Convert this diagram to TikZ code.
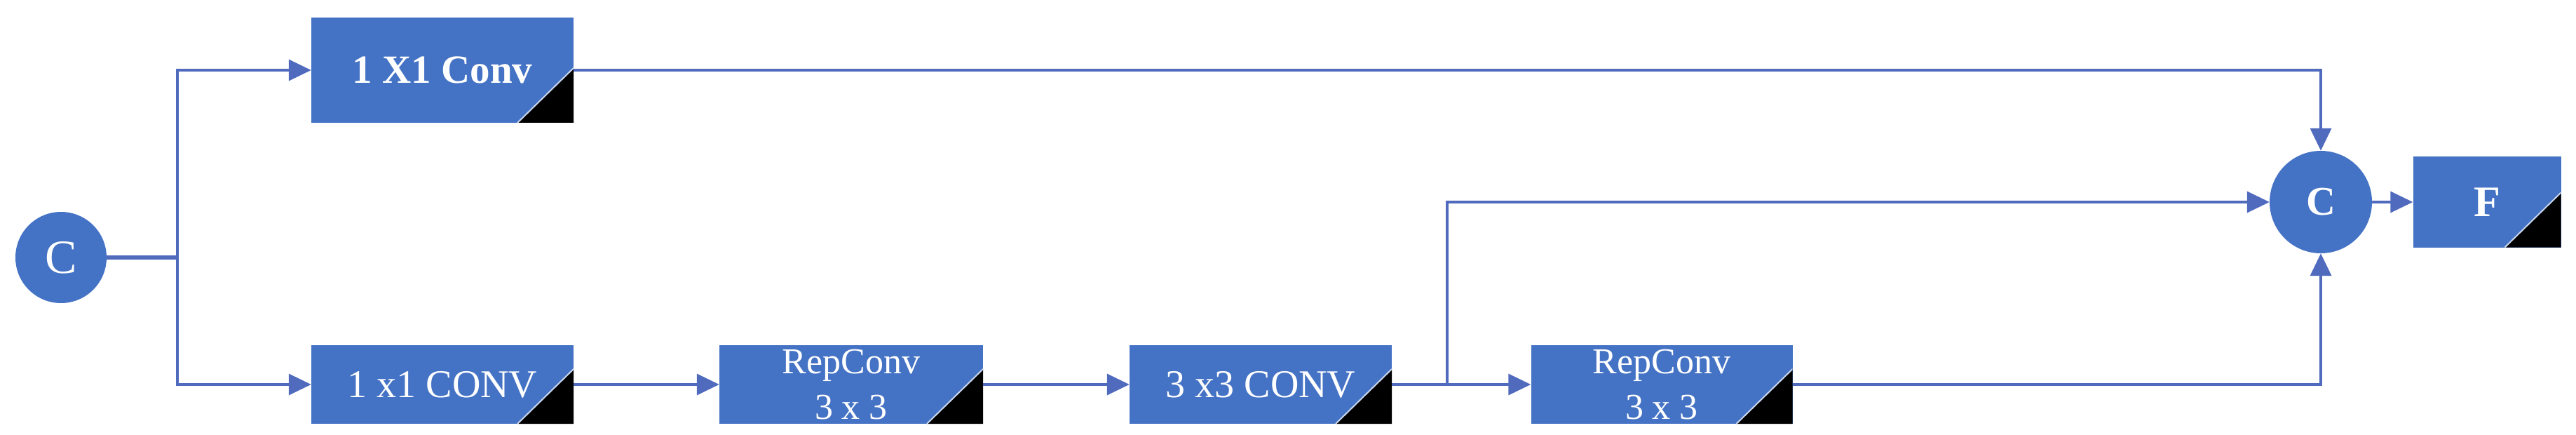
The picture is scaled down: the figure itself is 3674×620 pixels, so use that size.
\documentclass[tikz,border=0pt]{standalone}
\usepackage{fontspec}
\setmainfont{Liberation Serif}
\usetikzlibrary{arrows.meta}
\definecolor{boxblue}{RGB}{68,114,196}
\definecolor{linecol}{RGB}{80,106,190}
\begin{document}
\begin{tikzpicture}[x=1pt,y=-1pt,
  blk/.style={rectangle, fill=boxblue, text=white, inner sep=0pt,
    minimum width=374pt, minimum height=112pt,
    font=\fontsize{56}{65}\selectfont, align=center,
    path picture={
      \fill[black] (path picture bounding box.south east) -- ++(0,-78) -- ++(-80,78) -- cycle;
      \draw[white!70!boxblue, line width=2pt] (path picture bounding box.south east) ++(0,-78) -- ++(-80,78);}},
  circ/.style={circle, fill=boxblue, text=white, inner sep=0pt},
  conn/.style={draw=linecol, line width=3.5pt},
  arr/.style={conn, -{Triangle[length=32pt,width=30pt]}}]
\useasboundingbox (0,0) rectangle (3674,620);

\node[circ, minimum size=130pt, font=\fontsize{68}{70}\selectfont] (c1) at (87,367) {C};
\node[blk, minimum height=150pt, font=\bfseries\fontsize{57}{60}\selectfont] (b1) at (631,100) {1 X1 Conv};
\node[blk] (b2) at (631,548) {1 x1 CONV};
\node[blk, minimum width=376pt, font=\fontsize{52}{65}\selectfont] (b3) at (1214,548) {RepConv\\3 x 3};
\node[blk] (b4) at (1798,548) {3 x3 CONV};
\node[blk, minimum width=373pt, font=\fontsize{52}{65}\selectfont] (b5) at (2370,548) {RepConv\\3 x 3};
\node[circ, minimum size=146pt, font=\bfseries\fontsize{58}{60}\selectfont] (c2) at (3310,288) {C};
\node[blk, minimum width=211pt, minimum height=129pt, font=\bfseries\fontsize{62}{64}\selectfont] (b6) at (3547,288) {F};

\coordinate (s1) at (253,367);
\coordinate (s2) at (2064,548);

\draw[conn, line width=6pt] (c1.east) -- (s1);
\draw[arr] (s1) |- (b1.west);
\draw[arr] (s1) |- (b2.west);
\draw[arr] (b1.east) -| (c2.north);
\draw[arr] (b2) -- (b3);
\draw[arr] (b3) -- (b4);
\draw[arr] (b4) -- (b5);
\draw[arr] (s2) |- (c2.west);
\draw[arr] (b5.east) -| (c2.south);
\draw[arr] (c2) -- (b6);
\end{tikzpicture}
\end{document}
